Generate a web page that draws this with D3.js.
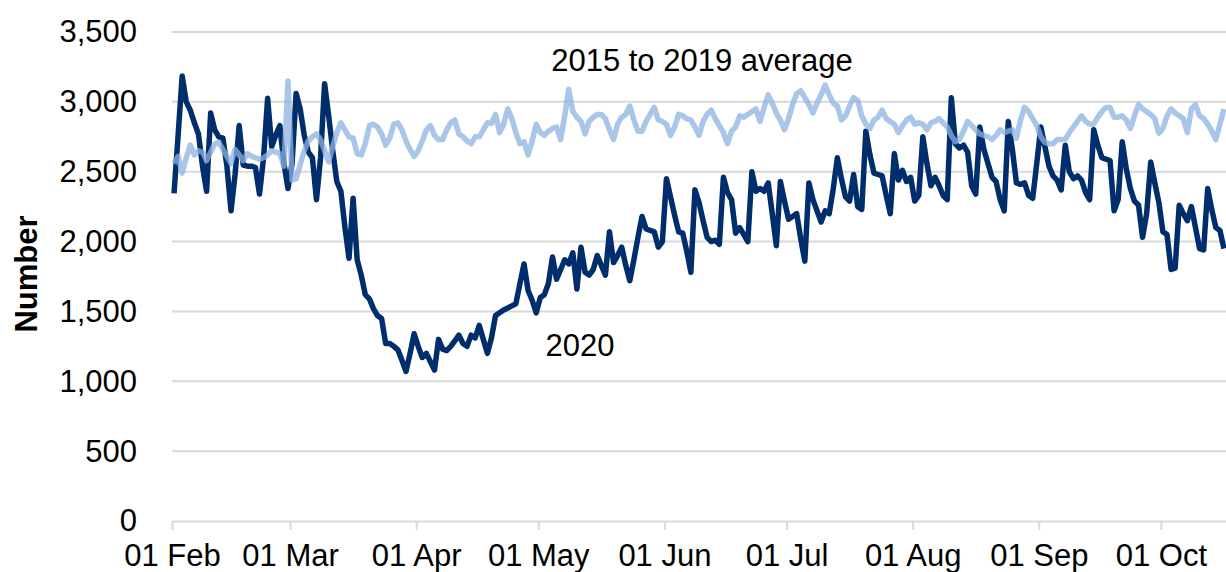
<!DOCTYPE html>
<html>
<head>
<meta charset="utf-8">
<title>Daily deaths 2020</title>
<script src="https://d3js.org/d3.v7.min.js"></script>
<style>
body{margin:0;background:#fff;}
text{font-family:"Liberation Sans",Arial,sans-serif;fill:#000;}
</style>
</head>
<body>
<script>
var w=1226, h=572;
var margin={top:32,right:0,bottom:51,left:172};

// first day of the series, one value per day after it
var startDay=Date.UTC(2020,1,1);
var endDay=Date.UTC(2020,9,17);

var cur_feb=[2345,2760,3185,3000,2940,2850,2770,2540,2360,2920,2800,2750,2740,2540,2220,2480,2830,2548,2540,2540,2530,2340,2600,3025,2680,2760,2830,2560,2380];
var cur_mar=[2560,3060,2950,2760,2640,2600,2300,2600,3130,2900,2650,2430,2360,2100,1880,2310,1870,1760,1620,1590,1520,1470,1450,1270,1270,1250,1225,1150,1070,1200,1340];
var cur_apr=[1250,1170,1200,1140,1080,1300,1230,1220,1250,1290,1330,1270,1250,1330,1310,1400,1300,1200,1310,1470,1490,1510,1525,1540,1555,1700,1840,1650,1580,1490];
var cur_may=[1600,1620,1700,1890,1730,1800,1870,1840,1920,1660,1960,1780,1760,1800,1900,1830,1760,2070,1850,1900,1960,1830,1720,1870,2030,2180,2090,2080,2070,1960,2000];
var cur_jun=[2450,2320,2190,2070,2060,1930,1780,2370,2280,2150,2030,2000,2010,1980,2460,2350,2300,2060,2100,2050,2000,2500,2360,2380,2360,2420,2200,1970,2430,2290];
var cur_jul=[2160,2180,2200,2020,1860,2420,2300,2220,2140,2220,2200,2380,2600,2450,2320,2290,2480,2250,2230,2790,2620,2490,2480,2470,2330,2200,2630,2440,2510,2430,2460];
var cur_aug=[2290,2330,2750,2560,2400,2460,2400,2330,2300,3030,2700,2670,2690,2640,2400,2340,2820,2660,2560,2460,2430,2300,2220,2860,2660,2420,2410,2420,2330,2310,2560];
var cur_sep=[2820,2680,2540,2470,2440,2370,2690,2500,2450,2470,2440,2350,2300,2800,2690,2600,2590,2580,2220,2300,2715,2520,2380,2290,2262,2030,2200,2570,2420,2280];
var cur_oct=[2070,2050,1800,1810,2260,2200,2150,2250,2100,1950,1940,2380,2230,2100,2080,1950];

// 2015 to 2019 average
var avg_feb=[2560,2610,2490,2600,2690,2620,2650,2640,2580,2640,2700,2710,2660,2610,2560,2660,2620,2580,2630,2610,2600,2590,2600,2620,2650,2640,2630,2540,3150];
var avg_mar=[2440,2450,2550,2650,2720,2750,2770,2730,2650,2570,2680,2780,2850,2800,2750,2740,2630,2620,2700,2830,2840,2820,2770,2690,2740,2840,2850,2800,2720,2660,2610];
var avg_apr=[2650,2720,2800,2830,2760,2730,2730,2800,2850,2870,2770,2750,2720,2700,2750,2750,2800,2850,2846,2910,2780,2840,2950,2880,2780,2700,2715,2620,2720,2840];
var avg_may=[2780,2760,2790,2810,2820,2730,2900,3090,2930,2890,2860,2770,2860,2890,2910,2910,2880,2800,2730,2840,2890,2910,2970,2870,2790,2790,2860,2910,2960,2870,2860];
var avg_jun=[2840,2760,2820,2910,2900,2880,2870,2820,2760,2860,2910,2940,2880,2830,2780,2700,2790,2820,2900,2890,2910,2930,2950,2860,2960,3050,2990,2920,2870,2800];
var avg_jul=[2880,2980,3060,3080,3030,2980,2920,2990,3050,3120,3050,2990,2970,2870,2900,2970,3030,3010,2900,2840,2810,2870,2890,2940,2880,2860,2840,2780,2830,2870,2890];
var avg_aug=[2840,2850,2840,2800,2850,2860,2880,2850,2820,2760,2715,2730,2790,2860,2830,2800,2770,2760,2750,2730,2760,2800,2780,2790,2800,2740,2870,2960,2930,2880,2830];
var avg_sep=[2750,2710,2700,2700,2730,2730,2730,2780,2820,2860,2900,2860,2840,2840,2890,2930,2960,2960,2890,2890,2900,2870,2810,2900,2980,2950,2930,2910,2880,2775];
var avg_oct=[2810,2900,2950,2920,2900,2880,2780,2950,2980,2900,2880,2840,2790,2730,2840,2950];

var yTicks=[0,500,1000,1500,2000,2500,3000,3500];
var avgLabel="2015 to 2019 average";
var curLabel="2020";
var yTitle="Number";

var cur=[].concat(cur_feb,cur_mar,cur_apr,cur_may,cur_jun,cur_jul,cur_aug,cur_sep,cur_oct);
var avg=[].concat(avg_feb,avg_mar,avg_apr,avg_may,avg_jun,avg_jul,avg_aug,avg_sep,avg_oct);

function dayOf(i){ return new Date(startDay+(i+0.5)*864e5); }

var svg=d3.select("body").append("svg")
	.attr("width",w)
	.attr("height",h)
	.style("background","#fff");

var x=d3.scaleUtc()
	.domain([new Date(startDay),new Date(endDay)])
	.range([margin.left,w-margin.right]);
var y=d3.scaleLinear()
	.domain([0,3500])
	.range([h-margin.bottom,margin.top]);

// gridlines
svg.append("g").selectAll("line")
	.data(yTicks.slice(1))
	.enter().append("line")
	.attr("x1",margin.left).attr("x2",w-margin.right)
	.attr("y1",function(d){return y(d);}).attr("y2",function(d){return y(d);})
	.attr("stroke","#d9d9d9").attr("stroke-width",2);

// y axis labels
var ya=svg.append("g")
	.attr("transform","translate("+margin.left+",0)")
	.call(d3.axisLeft(y).tickValues(yTicks).tickFormat(d3.format(",")).tickSize(0).tickPadding(35));
ya.select(".domain").remove();
ya.selectAll("text").style("font-size","31px").attr("fill","#000");

// x axis
var months=d3.utcMonth.range(new Date(startDay),new Date(endDay));
var xa=svg.append("g")
	.attr("transform","translate(0,"+y(0)+")")
	.call(d3.axisBottom(x).tickValues(months).tickFormat(d3.utcFormat("%d %b")).tickSizeInner(9).tickSizeOuter(0).tickPadding(14));
xa.select(".domain").attr("stroke","#d9d9d9").attr("stroke-width",2);
xa.selectAll(".tick line").attr("stroke","#d9d9d9").attr("stroke-width",2);
xa.selectAll("text").style("font-size","31px").attr("fill","#000");

var line=d3.line()
	.x(function(d,i){return x(dayOf(i));})
	.y(function(d){return y(d);});

svg.append("path")
	.datum(cur)
	.attr("d",line)
	.attr("fill","none")
	.attr("stroke","#002d6b")
	.attr("stroke-width",5.5)
	.attr("stroke-linejoin","round");

svg.append("path")
	.datum(avg)
	.attr("d",line)
	.attr("fill","none")
	.attr("stroke","#8cb3e3")
	.attr("stroke-opacity",0.75)
	.attr("stroke-width",5.5)
	.attr("stroke-linejoin","round");

// series labels
svg.append("text").text(avgLabel)
	.attr("x",702).attr("y",71)
	.attr("text-anchor","middle")
	.style("font-size","31px");
svg.append("text").text(curLabel)
	.attr("x",580).attr("y",356)
	.attr("text-anchor","middle")
	.style("font-size","31px");

svg.append("text").text(yTitle)
	.attr("transform","translate(37,274) rotate(-90)")
	.attr("text-anchor","middle")
	.style("font-size","31px")
	.style("font-weight","bold");
</script>
</body>
</html>
